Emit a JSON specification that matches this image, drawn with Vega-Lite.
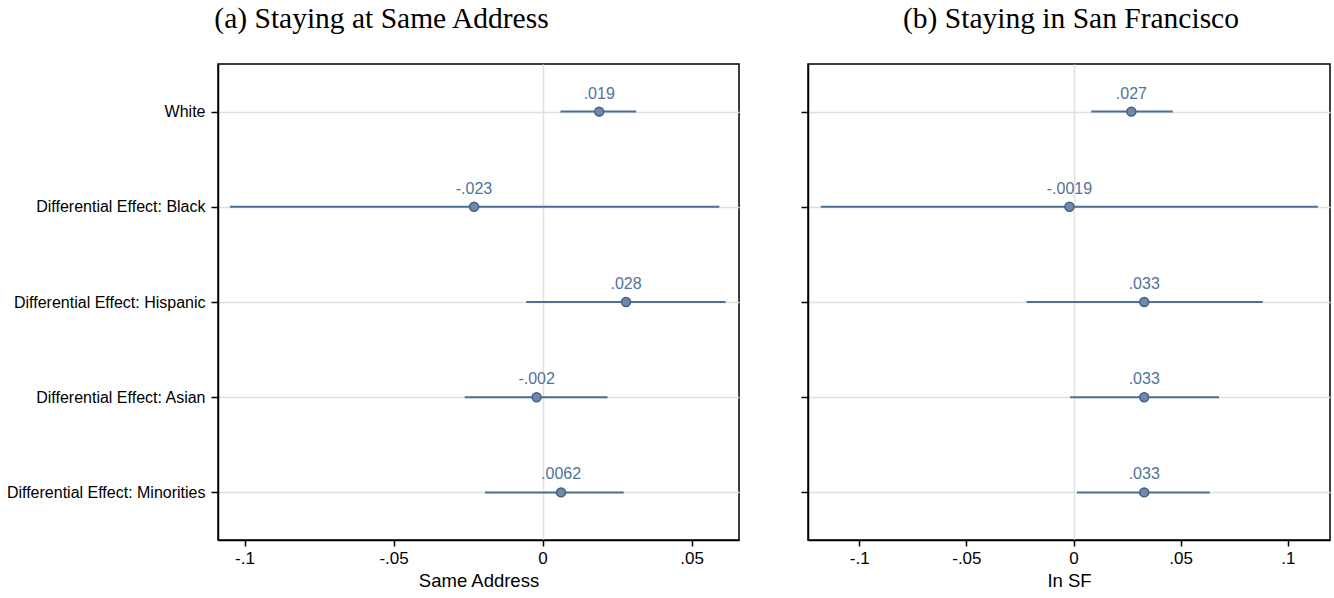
{
  "$schema": "https://vega.github.io/schema/vega-lite/v6.json",
  "padding": {"left": 5, "top": 2, "right": 0, "bottom": 0},
  "background": "white",
  "data": {"values": [
    {"panel": "a", "group": "White", "coef": 0.019, "lo": 0.006, "hi": 0.0314, "label": ".019"},
    {"panel": "a", "group": "Differential Effect: Black", "coef": -0.023, "lo": -0.1049, "hi": 0.0593, "label": "-.023"},
    {"panel": "a", "group": "Differential Effect: Hispanic", "coef": 0.028, "lo": -0.0055, "hi": 0.0614, "label": ".028"},
    {"panel": "a", "group": "Differential Effect: Asian", "coef": -0.002, "lo": -0.0261, "hi": 0.0218, "label": "-.002"},
    {"panel": "a", "group": "Differential Effect: Minorities", "coef": 0.0062, "lo": -0.0193, "hi": 0.0272, "label": ".0062"},
    {"panel": "b", "group": "White", "coef": 0.027, "lo": 0.0083, "hi": 0.0463, "label": ".027"},
    {"panel": "b", "group": "Differential Effect: Black", "coef": -0.0019, "lo": -0.1179, "hi": 0.114, "label": "-.0019"},
    {"panel": "b", "group": "Differential Effect: Hispanic", "coef": 0.033, "lo": -0.0219, "hi": 0.0883, "label": ".033"},
    {"panel": "b", "group": "Differential Effect: Asian", "coef": 0.033, "lo": -0.0016, "hi": 0.0679, "label": ".033"},
    {"panel": "b", "group": "Differential Effect: Minorities", "coef": 0.033, "lo": 0.0016, "hi": 0.0636, "label": ".033"}
  ]},
  "spacing": 69,
  "bounds": "flush",
  "hconcat": [
    {
      "width": 521,
      "height": 476,
      "title": {"text": "(a) Staying at Same Address", "font": "Liberation Serif", "fontSize": 29.5, "fontWeight": "normal", "color": "black", "anchor": "middle", "dx": -97, "offset": 7, "baseline": "alphabetic"},
      "transform": [{"filter": "datum.panel === 'a'"}],
      "encoding": {
        "y": {
          "field": "group", "type": "nominal",
          "sort": ["White", "Differential Effect: Black", "Differential Effect: Hispanic", "Differential Effect: Asian", "Differential Effect: Minorities"],
          "scale": {"type": "point", "padding": 0.5},
          "axis": {"title": null, "labelFont": "Liberation Sans", "labelFontSize": 16, "labelColor": "black", "labelLimit": 300, "tickSize": 7, "tickColor": "black", "tickWidth": 1.5, "labelPadding": 6, "domainColor": "black", "domainWidth": 1.5, "grid": true, "gridColor": "#e0e0e0", "gridWidth": 1.5}
        }
      },
      "layer": [
        {
          "mark": {"type": "rule", "strokeWidth": 2, "color": "#4d6f91"},
          "encoding": {
            "x": {"field": "lo", "type": "quantitative",
              "scale": {"domain": [-0.1089, 0.0659], "nice": false, "zero": false},
              "axis": {"title": "Same Address",
                "values": [-0.1, -0.05, 0, 0.05],
                "labelExpr": "datum.value === 0 ? '0' : replace(toString(datum.value), '0.', '.')",
                "gridOpacity": {"condition": {"test": "datum.value === 0", "value": 1}, "value": 0}}},
            "x2": {"field": "hi"}
          }
        },
        {
          "mark": {"type": "circle", "size": 80, "fill": "#7189a5", "stroke": "#3f6184", "strokeWidth": 1.5, "opacity": 1},
          "encoding": {"x": {"field": "coef", "type": "quantitative"}}
        },
        {
          "mark": {"type": "text", "dy": -13, "baseline": "alphabetic", "font": "Liberation Sans", "fontSize": 16, "color": "#4f739a"},
          "encoding": {"x": {"field": "coef", "type": "quantitative"}, "text": {"field": "label"}}
        }
      ]
    },
    {
      "width": 522,
      "height": 476,
      "title": {"text": "(b) Staying in San Francisco", "font": "Liberation Serif", "fontSize": 29.5, "fontWeight": "normal", "color": "black", "anchor": "middle", "dx": 2, "offset": 7, "baseline": "alphabetic"},
      "transform": [{"filter": "datum.panel === 'b'"}],
      "encoding": {
        "y": {
          "field": "group", "type": "nominal",
          "sort": ["White", "Differential Effect: Black", "Differential Effect: Hispanic", "Differential Effect: Asian", "Differential Effect: Minorities"],
          "scale": {"type": "point", "padding": 0.5},
          "axis": {"title": null, "labels": false, "tickSize": 7, "tickColor": "black", "tickWidth": 1.5, "domainColor": "black", "domainWidth": 1.5, "grid": true, "gridColor": "#e0e0e0", "gridWidth": 1.5}
        }
      },
      "layer": [
        {
          "mark": {"type": "rule", "strokeWidth": 2, "color": "#4d6f91"},
          "encoding": {
            "x": {"field": "lo", "type": "quantitative",
              "scale": {"domain": [-0.1239, 0.1197], "nice": false, "zero": false},
              "axis": {"title": "In SF",
                "values": [-0.1, -0.05, 0, 0.05, 0.1],
                "labelExpr": "datum.value === 0 ? '0' : replace(toString(datum.value), '0.', '.')",
                "gridOpacity": {"condition": {"test": "datum.value === 0", "value": 1}, "value": 0}}},
            "x2": {"field": "hi"}
          }
        },
        {
          "mark": {"type": "circle", "size": 80, "fill": "#7189a5", "stroke": "#3f6184", "strokeWidth": 1.5, "opacity": 1},
          "encoding": {"x": {"field": "coef", "type": "quantitative"}}
        },
        {
          "mark": {"type": "text", "dy": -13, "baseline": "alphabetic", "font": "Liberation Sans", "fontSize": 16, "color": "#4f739a"},
          "encoding": {"x": {"field": "coef", "type": "quantitative"}, "text": {"field": "label"}}
        }
      ]
    }
  ],
  "config": {
    "view": {"stroke": "black", "strokeWidth": 1.5},
    "axis": {"labelFlush": false},
    "axisX": {
      "titleFont": "Liberation Sans", "titleFontSize": 18.5, "titleFontWeight": "normal", "titleColor": "black", "titlePadding": 5,
      "labelFont": "Liberation Sans", "labelFontSize": 17, "labelColor": "black", "labelPadding": 4,
      "tickSize": 6, "tickColor": "black", "tickWidth": 1.5, "domainColor": "black", "domainWidth": 1.5,
      "grid": true, "gridColor": "#e0e0e0", "gridWidth": 1.5
    }
  }
}
